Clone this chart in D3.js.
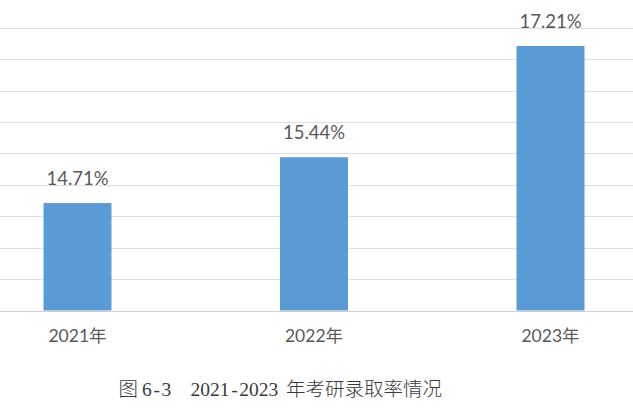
<!DOCTYPE html>
<html lang="zh">

<head>
    <meta charset="UTF-8">
    <title>考研录取率</title>
    <script src="https://d3js.org/d3.v7.min.js"></script>
    <style>
        body { margin: 0; background: #ffffff; }
    </style>
</head>

<body>
    <div id="chart"></div>
    <script>

        // data
        const years = ["2021年", "2022年", "2023年"];
        const rates = [14.71, 15.44, 17.21];
        const gridTicks = [13, 13.5, 14, 14.5, 15, 15.5, 16, 16.5, 17, 17.5, 18];
        const captionParts = ["图", "6-3", "2021-2023", "年考研录取率情况"];

        const width = 633;
        const height = 412;

        const svg = d3.select("#chart")
            .append("svg")
            .attr("width", width)
            .attr("height", height);

        // the plot is cropped on the left, right and top of the original
        const x = d3.scaleBand()
            .domain(years)
            .range([-40.75, 668.75])
            .paddingInner(0.7125)
            .paddingOuter(0.35625);

        const y = d3.scaleLinear()
            .domain([13, 18])
            .range([310.5, -3.6]);

        // horizontal gridlines
        svg.append("g")
            .selectAll("line")
            .data(gridTicks)
            .join("line")
            .attr("x1", 0)
            .attr("x2", width)
            .attr("y1", d => Math.round(y(d)) + 0.5)
            .attr("y2", d => Math.round(y(d)) + 0.5)
            .attr("stroke", d => d === 13 ? "#d0d0d0" : "#dedede")
            .attr("stroke-width", 1);

        // bars
        svg.append("g")
            .selectAll("rect")
            .data(rates)
            .join("rect")
            .attr("x", (d, i) => x(years[i]))
            .attr("y", d => y(d))
            .attr("width", x.bandwidth())
            .attr("height", d => y(13) - y(d))
            .attr("fill", "#5b9bd5");

        // value labels
        svg.append("g")
            .selectAll("text")
            .data(rates)
            .join("text")
            .attr("x", (d, i) => x(years[i]) + x.bandwidth() / 2)
            .attr("y", d => y(d) - 18)
            .attr("text-anchor", "middle")
            .style("font-family", "Lato, 'Noto Sans CJK SC', sans-serif")
            .style("font-size", "18.5px")
            .attr("fill", "#595959")
            .text(d => d.toFixed(2) + "%");

        // category labels
        svg.append("g")
            .selectAll("text")
            .data(years)
            .join("text")
            .attr("x", d => x(d) + x.bandwidth() / 2)
            .attr("y", 342)
            .attr("text-anchor", "middle")
            .style("font-family", "Lato, 'Noto Sans CJK SC', sans-serif")
            .style("font-size", "17.5px")
            .attr("fill", "#595959")
            .text(d => d);

        // figure caption, laid out like a SimSun line: full-width CJK, half-width latin
        const capSize = 19.5;
        const partX = [118.5, 142, 190.5, 286];
        const capChars = [];
        captionParts.forEach((part, p) => {
            let cx = partX[p];
            Array.from(part).forEach(ch => {
                const w = /[\u4e00-\u9fff]/.test(ch) ? capSize : capSize / 2;
                capChars.push({ ch: ch, x: cx + w / 2 });
                cx += w;
            });
        });

        const cap = svg.append("text")
            .attr("y", 396)
            .attr("text-anchor", "middle")
            .style("font-family", "'Liberation Serif', 'Noto Sans CJK SC', serif")
            .style("font-size", capSize + "px")
            .style("font-weight", 300)
            .attr("fill", "#3a3a3a");

        cap.selectAll("tspan")
            .data(capChars)
            .join("tspan")
            .attr("x", d => d.x)
            .text(d => d.ch);

    </script>

</body>

</html>
